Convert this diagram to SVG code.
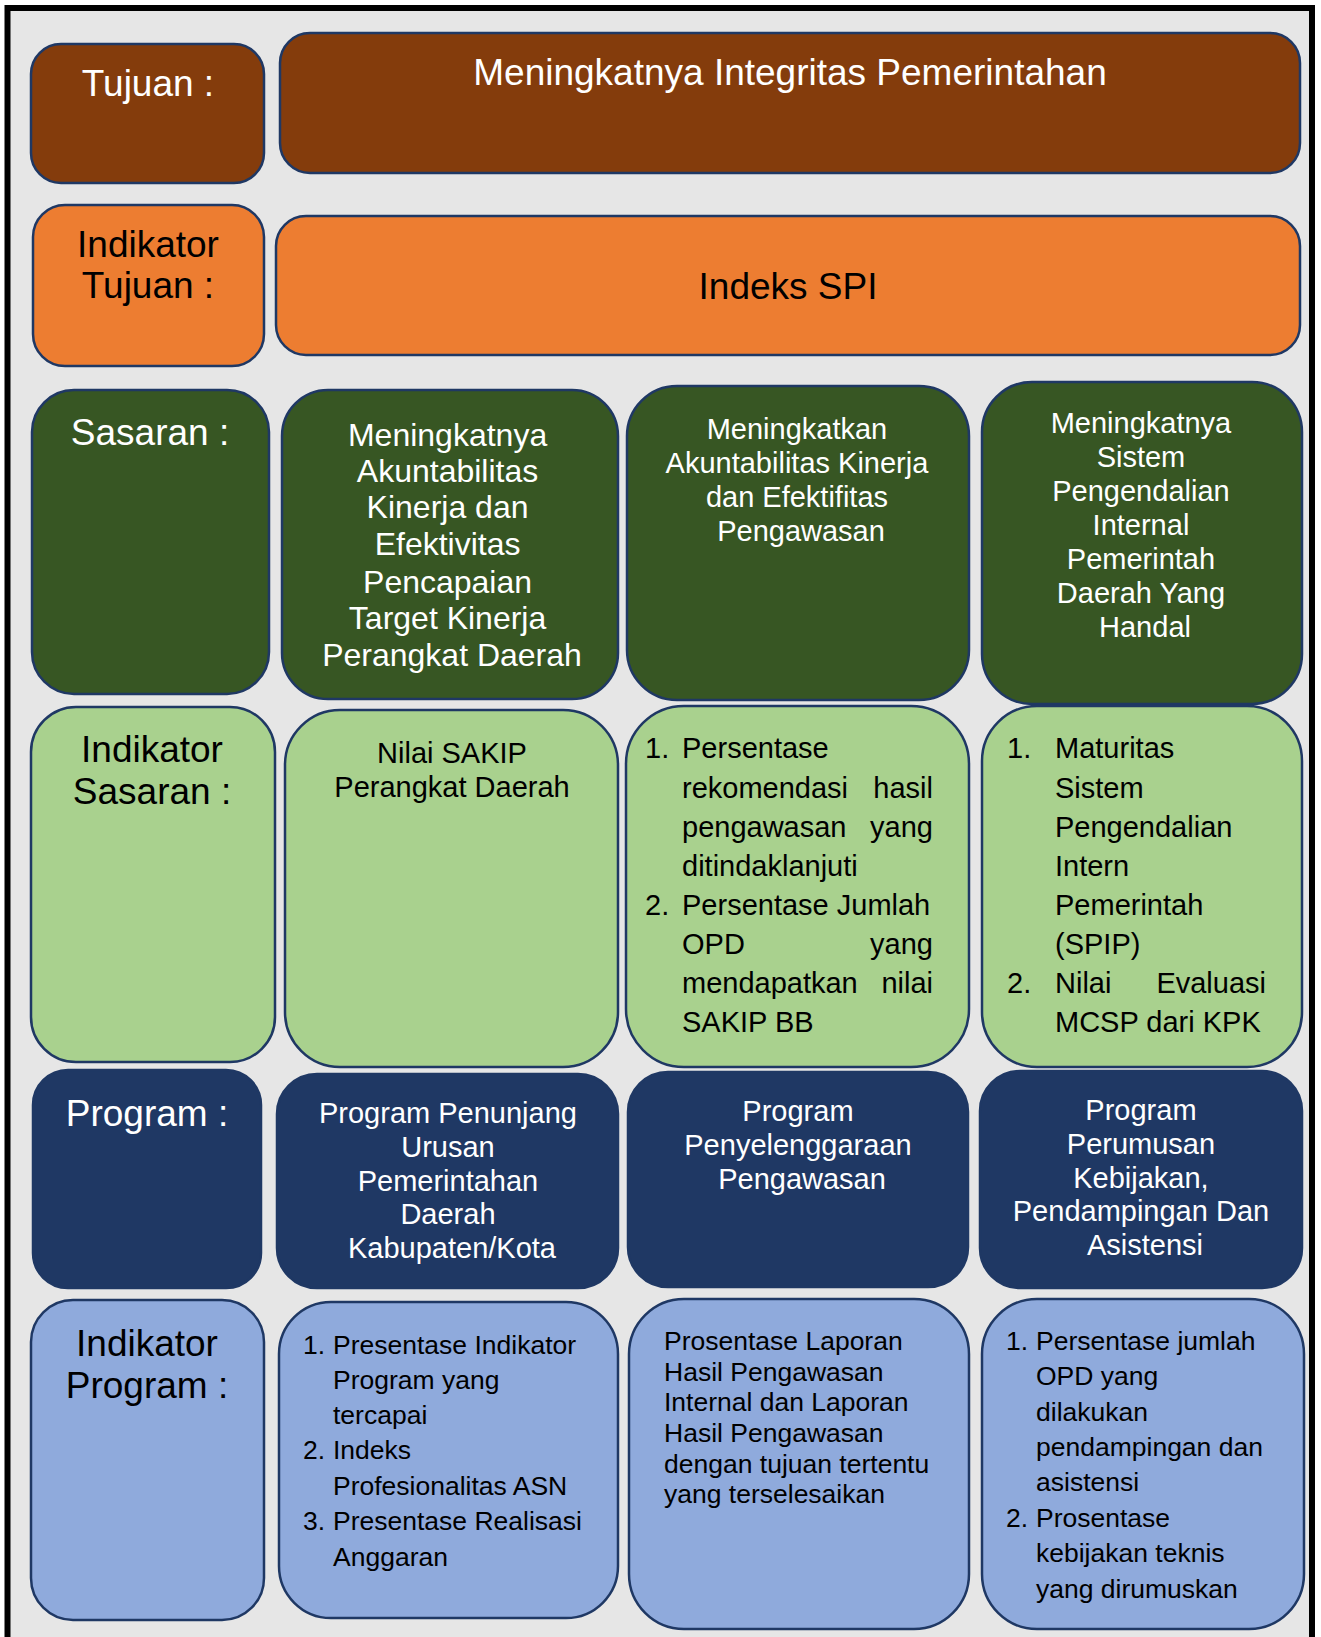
<svg xmlns="http://www.w3.org/2000/svg" width="1321" height="1637" viewBox="0 0 1321 1637">
<style>
.box{stroke:#1F3864;stroke-width:2.5}
.t{font-family:"Liberation Sans",Arial,sans-serif}
.w{fill:#FFFFFF}
.k{fill:#000000}
.c{text-anchor:middle}
.e{text-anchor:end}
.f37{font-size:37px}
.f32{font-size:32px}
.f29{font-size:29px}
.f265{font-size:26.5px}
.brown{fill:#843C0C}
.orange{fill:#ED7D31}
.dgreen{fill:#375623}
.lgreen{fill:#A9D18E}
.navy{fill:#1F3864}
.lblue{fill:#8FAADC}
</style>
<rect x="0" y="0" width="1321" height="1637" fill="#FFFFFF"/>
<rect id="frame" x="7.5" y="8" width="1304.5" height="1700" fill="#E6E6E6" stroke="#000000" stroke-width="6"/>

<g id="connectors"></g>

<!-- Row 1 -->
<g id="tujuan-label">
<rect class="box brown" x="31" y="44" width="233" height="139" rx="30"/>
<text class="t w c f37" x="148" y="96">Tujuan :</text>
</g>
<g id="tujuan">
<rect class="box brown" x="280" y="33" width="1020" height="140" rx="30"/>
<text class="t w c f37" x="790" y="85">Meningkatnya Integritas Pemerintahan</text>
</g>

<!-- Row 2 -->
<g id="indikator-tujuan-label">
<rect class="box orange" x="33" y="205" width="231" height="161" rx="32"/>
<text class="t k c f37" x="148" y="257">Indikator</text>
<text class="t k c f37" x="148" y="298">Tujuan :</text>
</g>
<g id="indikator-tujuan">
<rect class="box orange" x="276" y="216" width="1024" height="139" rx="30"/>
<text class="t k c f37" x="788" y="299">Indeks SPI</text>
</g>

<!-- Row 3 -->
<g id="sasaran-label">
<rect class="box dgreen" x="32" y="390" width="237" height="304" rx="42"/>
<text class="t w c f37" x="150" y="445">Sasaran :</text>
</g>
<g id="sasaran-1">
<rect class="box dgreen" x="282" y="390" width="336" height="309" rx="46"/>
<text class="t w c f32" x="452">
<tspan x="452" y="446">Meningkatnya</tspan>
<tspan x="452" y="482">Akuntabilitas</tspan>
<tspan x="452" y="518">Kinerja dan</tspan>
<tspan x="452" y="555">Efektivitas</tspan>
<tspan x="452" y="593">Pencapaian</tspan>
<tspan x="452" y="629">Target Kinerja</tspan>
<tspan x="452" y="666">Perangkat Daerah</tspan>
</text>
</g>
<g id="sasaran-2">
<rect class="box dgreen" x="627" y="386" width="342" height="314" rx="50"/>
<text class="t w c f29" x="801">
<tspan x="801" y="439">Meningkatkan</tspan>
<tspan x="801" y="473">Akuntabilitas Kinerja</tspan>
<tspan x="801" y="507">dan Efektifitas</tspan>
<tspan x="801" y="541">Pengawasan</tspan>
</text>
</g>
<g id="sasaran-3">
<rect class="box dgreen" x="982" y="382" width="320" height="322" rx="50"/>
<text class="t w c f29" x="1145">
<tspan x="1145" y="433">Meningkatnya</tspan>
<tspan x="1145" y="467">Sistem</tspan>
<tspan x="1145" y="501">Pengendalian</tspan>
<tspan x="1145" y="535">Internal</tspan>
<tspan x="1145" y="569">Pemerintah</tspan>
<tspan x="1145" y="603">Daerah Yang</tspan>
<tspan x="1145" y="637">Handal</tspan>
</text>
</g>

<!-- Row 4 -->
<g id="indikator-sasaran-label">
<rect class="box lgreen" x="31" y="707" width="244" height="355" rx="45"/>
<text class="t k c f37" x="152" y="762">Indikator</text>
<text class="t k c f37" x="152" y="804">Sasaran :</text>
</g>
<g id="indikator-sasaran-1">
<rect class="box lgreen" x="285" y="710" width="333" height="357" rx="55"/>
<text class="t k c f29" x="452" y="763">Nilai SAKIP</text>
<text class="t k c f29" x="452" y="797">Perangkat Daerah</text>
</g>
<g id="indikator-sasaran-2">
<rect class="box lgreen" x="626" y="706" width="343" height="361" rx="58"/>
<g class="t k f29">
<text x="645" y="758">1.</text>
<text x="682" y="758">Persentase</text>
<text x="682" y="798">rekomendasi</text>
<text class="e" x="933" y="798">hasil</text>
<text x="682" y="837">pengawasan</text>
<text class="e" x="933" y="837">yang</text>
<text x="682" y="876">ditindaklanjuti</text>
<text x="645" y="915">2.</text>
<text x="682" y="915">Persentase Jumlah</text>
<text x="682" y="954">OPD</text>
<text class="e" x="933" y="954">yang</text>
<text x="682" y="993">mendapatkan</text>
<text class="e" x="933" y="993">nilai</text>
<text x="682" y="1032">SAKIP BB</text>
</g>
</g>
<g id="indikator-sasaran-3">
<rect class="box lgreen" x="982" y="706" width="320" height="361" rx="55"/>
<g class="t k f29">
<text x="1007" y="758">1.</text>
<text x="1055" y="758">Maturitas</text>
<text x="1055" y="798">Sistem</text>
<text x="1055" y="837">Pengendalian</text>
<text x="1055" y="876">Intern</text>
<text x="1055" y="915">Pemerintah</text>
<text x="1055" y="954">(SPIP)</text>
<text x="1007" y="993">2.</text>
<text x="1055" y="993">Nilai</text>
<text class="e" x="1266" y="993">Evaluasi</text>
<text x="1055" y="1032">MCSP dari KPK</text>
</g>
</g>

<!-- Row 5 -->
<g id="program-label">
<rect class="box navy" x="33" y="1070" width="228" height="218" rx="35"/>
<text class="t w c f37" x="147" y="1126">Program :</text>
</g>
<g id="program-1">
<rect class="box navy" x="277" y="1074" width="341" height="214" rx="40"/>
<text class="t w c f29" x="452">
<tspan x="452" y="1123">Program Penunjang</tspan>
<tspan x="452" y="1157">Urusan</tspan>
<tspan x="452" y="1191">Pemerintahan</tspan>
<tspan x="452" y="1224">Daerah</tspan>
<tspan x="452" y="1258">Kabupaten/Kota</tspan>
</text>
</g>
<g id="program-2">
<rect class="box navy" x="628" y="1072" width="340" height="215" rx="40"/>
<text class="t w c f29" x="802">
<tspan x="802" y="1121">Program</tspan>
<tspan x="802" y="1155">Penyelenggaraan</tspan>
<tspan x="802" y="1189">Pengawasan</tspan>
</text>
</g>
<g id="program-3">
<rect class="box navy" x="980" y="1071" width="322" height="217" rx="40"/>
<text class="t w c f29" x="1145">
<tspan x="1145" y="1120">Program</tspan>
<tspan x="1145" y="1154">Perumusan</tspan>
<tspan x="1145" y="1188">Kebijakan,</tspan>
<tspan x="1145" y="1221">Pendampingan Dan</tspan>
<tspan x="1145" y="1255">Asistensi</tspan>
</text>
</g>

<!-- Row 6 -->
<g id="indikator-program-label">
<rect class="box lblue" x="31" y="1300" width="233" height="320" rx="42"/>
<text class="t k c f37" x="147" y="1356">Indikator</text>
<text class="t k c f37" x="147" y="1398">Program :</text>
</g>
<g id="indikator-program-1">
<rect class="box lblue" x="279" y="1302" width="339" height="316" rx="52"/>
<g class="t k f265">
<text x="303" y="1354">1.</text>
<text x="333" y="1354">Presentase Indikator</text>
<text x="333" y="1389">Program yang</text>
<text x="333" y="1424">tercapai</text>
<text x="303" y="1459">2.</text>
<text x="333" y="1459">Indeks</text>
<text x="333" y="1495">Profesionalitas ASN</text>
<text x="303" y="1530">3.</text>
<text x="333" y="1530">Presentase Realisasi</text>
<text x="333" y="1566">Anggaran</text>
</g>
</g>
<g id="indikator-program-2">
<rect class="box lblue" x="629" y="1299" width="340" height="330" rx="55"/>
<g class="t k f265">
<text x="664" y="1350">Prosentase Laporan</text>
<text x="664" y="1381">Hasil Pengawasan</text>
<text x="664" y="1411">Internal dan Laporan</text>
<text x="664" y="1442">Hasil Pengawasan</text>
<text x="664" y="1473">dengan tujuan tertentu</text>
<text x="664" y="1503">yang terselesaikan</text>
</g>
</g>
<g id="indikator-program-3">
<rect class="box lblue" x="982" y="1299" width="322" height="330" rx="55"/>
<g class="t k f265">
<text x="1006" y="1350">1.</text>
<text x="1036" y="1350">Persentase jumlah</text>
<text x="1036" y="1385">OPD yang</text>
<text x="1036" y="1421">dilakukan</text>
<text x="1036" y="1456">pendampingan dan</text>
<text x="1036" y="1491">asistensi</text>
<text x="1006" y="1527">2.</text>
<text x="1036" y="1527">Prosentase</text>
<text x="1036" y="1562">kebijakan teknis</text>
<text x="1036" y="1598">yang dirumuskan</text>
</g>
</g>
</svg>
